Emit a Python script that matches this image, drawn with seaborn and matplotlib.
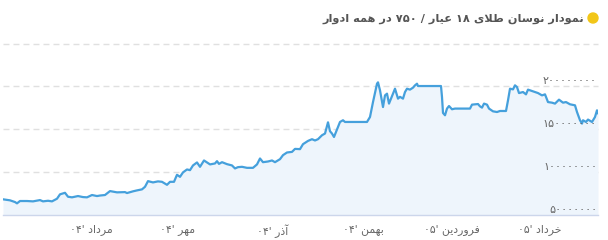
import matplotlib
matplotlib.use("Agg")
import matplotlib.pyplot as plt
from matplotlib.patches import Ellipse
import seaborn as sns
import pandas as pd

# ---------------- data ----------------
title_text = "نمودار نوسان طلای ۱۸ عیار / ۷۵۰ در همه ادوار"

# position along the time axis (ordinal trading positions)
t = [3, 10, 15, 17, 20, 27, 33, 40, 43, 48, 52, 57, 60, 65, 68, 72, 78, 83, 87, 92,
     97, 100, 105, 110, 117, 125, 127, 133, 137, 142, 145, 148, 153, 158, 162, 167,
     170, 174, 177, 180, 183, 187, 190, 193, 197, 200, 204, 210, 215, 217, 219, 222,
     227, 232, 235, 238, 242, 247, 253, 257, 260, 263, 268, 272, 275, 280, 283, 287,
     292, 295, 300, 303, 308, 312, 315, 318, 322, 325, 328, 330, 332, 334, 337, 340,
     343, 345, 367, 370, 373, 377, 378, 380, 383, 385, 387, 389, 393, 395, 398, 400,
     403, 405, 407, 410, 413, 415, 417, 418, 441, 442, 443, 445, 447, 449, 452, 455,
     470, 472, 478, 480, 482, 484, 487, 489, 493, 497, 500, 506, 508, 510, 513, 515,
     517, 519, 523, 526, 528, 533, 538, 542, 545, 548, 552, 555, 559, 563, 566, 570,
     575, 577, 580, 582, 583, 586, 588, 592, 595, 597, 598]

price = [68.3, 67.1, 65.1, 63.6, 66.3, 66.3, 65.9, 67.4, 65.9, 66.6, 65.9, 69.0, 74.1,
         75.9, 71.3, 70.6, 72.1, 70.9, 70.6, 73.3, 72.1, 72.7, 73.3, 77.9, 76.4, 76.7,
         75.6, 77.6, 78.7, 79.9, 82.9, 89.5, 88.0, 89.2, 88.7, 85.2, 88.7, 88.7, 96.9,
         94.5, 99.7, 103.1, 102.3, 107.8, 111.3, 106.2, 113.6, 109.0, 110.1, 112.8,
         109.6, 111.6, 109.3, 107.8, 104.3, 105.8, 106.2, 105.0, 105.0, 109.0, 115.9,
         111.6, 112.4, 113.6, 111.6, 115.1, 119.8, 122.9, 123.6, 127.1, 126.8, 132.6,
         136.4, 138.4, 136.9, 138.4, 143.0, 145.0, 158.1, 147.7, 145.0, 141.0, 149.7,
         158.5, 160.5, 158.5, 158.5, 164.3, 181.7, 203.1, 204.7, 195.4, 175.9, 189.5,
         191.5, 179.9, 191.5, 197.3, 185.7, 187.8, 185.7, 193.4, 197.3, 196.2, 198.5,
         201.2, 203.1, 200.4, 200.4, 187.6, 169.0, 166.3, 174.1, 177.1, 173.3, 174.1,
         174.1, 178.7, 179.4, 176.7, 175.2, 179.9, 178.7, 174.1, 170.9, 170.1, 171.3,
         171.3, 183.7, 197.3, 196.5, 201.2, 199.2, 192.2, 193.4, 190.7, 196.2, 194.2,
         192.2, 189.5, 190.7, 181.7, 181.0, 179.9, 184.5, 181.0, 181.7, 179.1, 177.9,
         170.1, 160.5, 156.6, 160.5, 158.5, 161.3, 158.5, 164.3, 172.1, 168.3]
price = [p * 1_000_000 for p in price]

x_tick_pos = [91, 178, 273, 363, 452, 540]
x_tick_labels = ["مرداد '۰۴", "مهر '۰۴", "آذر '۰۴", "بهمن '۰۴", "فروردین '۰۵", "خرداد '۰۵"]

y_label_values = [50_000_000, 100_000_000, 150_000_000, 200_000_000]
y_label_texts = ["۵۰۰۰۰۰۰۰", "۱۰۰۰۰۰۰۰۰", "۱۵۰۰۰۰۰۰۰", "۲۰۰۰۰۰۰۰۰"]
y_grid_values = [100_000_000, 150_000_000, 200_000_000, 250_000_000]

# ---------------- Persian shaping (presentation forms + visual order) ----------------
FORMS = {  # iso, fin, ini, med
    'ا': ('\uFE8D', '\uFE8E', None, None),
    'آ': ('\uFE81', '\uFE82', None, None),
    'ب': ('\uFE8F', '\uFE90', '\uFE91', '\uFE92'),
    'خ': ('\uFEA5', '\uFEA6', '\uFEA7', '\uFEA8'),
    'د': ('\uFEA9', '\uFEAA', None, None),
    'ذ': ('\uFEAB', '\uFEAC', None, None),
    'ر': ('\uFEAD', '\uFEAE', None, None),
    'س': ('\uFEB1', '\uFEB2', '\uFEB3', '\uFEB4'),
    'ط': ('\uFEC1', '\uFEC2', '\uFEC3', '\uFEC4'),
    'ع': ('\uFEC9', '\uFECA', '\uFECB', '\uFECC'),
    'ف': ('\uFED1', '\uFED2', '\uFED3', '\uFED4'),
    'ل': ('\uFEDD', '\uFEDE', '\uFEDF', '\uFEE0'),
    'م': ('\uFEE1', '\uFEE2', '\uFEE3', '\uFEE4'),
    'ن': ('\uFEE5', '\uFEE6', '\uFEE7', '\uFEE8'),
    'ه': ('\uFEE9', '\uFEEA', '\uFEEB', '\uFEEC'),
    'و': ('\uFEED', '\uFEEE', None, None),
    'ی': ('\uFBFC', '\uFBFD', '\uFBFE', '\uFBFF'),
}
LAM_ALEF = {'ا': ('\uFEFB', '\uFEFC'), 'آ': ('\uFEF5', '\uFEF6')}


def dual(c):
    return c in FORMS and FORMS[c][2] is not None


def shape(s):
    out = []
    i = 0
    n = len(s)
    while i < n:
        c = s[i]
        if c not in FORMS:
            out.append(c)
            i += 1
            continue
        prev = s[i - 1] if i > 0 else ''
        joins_prev = dual(prev)
        if c == 'ل' and i + 1 < n and s[i + 1] in LAM_ALEF:
            iso, fin = LAM_ALEF[s[i + 1]]
            out.append(fin if joins_prev else iso)
            i += 2
            continue
        nxt = s[i + 1] if i + 1 < n else ''
        joins_next = dual(c) and nxt in FORMS
        iso, fin, ini, med = FORMS[c]
        if joins_prev and joins_next:
            out.append(med)
        elif joins_prev:
            out.append(fin)
        elif joins_next:
            out.append(ini)
        else:
            out.append(iso)
        i += 1
    return ''.join(out)


def fa(s):
    shaped = shape(s)
    digits = set('۰۱۲۳۴۵۶۷۸۹0123456789')
    runs = []
    cur = ''
    cur_digit = None
    for ch in shaped:
        d = ch in digits
        if cur and d != cur_digit:
            runs.append((cur, cur_digit))
            cur = ''
        cur += ch
        cur_digit = d
    if cur:
        runs.append((cur, cur_digit))
    vis = [r if d else r[::-1] for r, d in runs]
    return ''.join(vis[::-1])


# ---------------- plot ----------------
sns.set_style("white")
plt.rcParams['font.family'] = ['DejaVu Sans']
plt.rcParams['lines.scale_dashes'] = False

W, H = 608, 240
fig = plt.figure(figsize=(W / 100, H / 100), dpi=100)
ax = fig.add_axes([3 / W, 25 / H, 595 / W, (215 - 43.5) / H])

df = pd.DataFrame({"t": t, "price": price})
ax.fill_between(df["t"], df["price"], 50_000_000, color="#eef5fc", lw=0, zorder=1)
sns.lineplot(data=df, x="t", y="price", ax=ax, color="#45a0dc", lw=1.6, zorder=3)

ax.set_xlim(3, 598)
ax.set_ylim(50_000_000, 250_000_000)

for v in y_grid_values:
    ax.axhline(v, color="#e0e0e0", lw=1, ls=(0, (4.3, 2.9)), zorder=0.5, clip_on=False)

for v, lab in zip(y_label_values, y_label_texts):
    ax.annotate(lab, xy=(1, v), xycoords=("axes fraction", "data"),
                xytext=(-1, 0), textcoords="offset pixels", ha="right", va="bottom",
                fontsize=8, color="#666666", zorder=4)

ax.set_yticks([])
ax.set_xticks(x_tick_pos)
ax.set_xticklabels([fa(s) for s in x_tick_labels])
ax.tick_params(axis="x", length=6.5, width=1, color="#ccd6eb", labelsize=7.8,
               labelcolor="#666666", pad=0, direction="out")
ax.set_xlabel("")
ax.set_ylabel("")
for side in ["top", "left", "right"]:
    ax.spines[side].set_visible(False)
ax.spines["bottom"].set_color("#ccd6eb")
ax.spines["bottom"].set_linewidth(1)

fig.text(584 / W, 1 - 19 / H, fa(title_text), ha="right", va="center",
         fontsize=8.2, fontweight="bold", color="#555555")
fig.add_artist(Ellipse((593 / W, 1 - 18 / H), width=10 / W, height=10 / H,
                       transform=fig.transFigure, color="#f2c618"))

fig.savefig("out.png", dpi=100)
